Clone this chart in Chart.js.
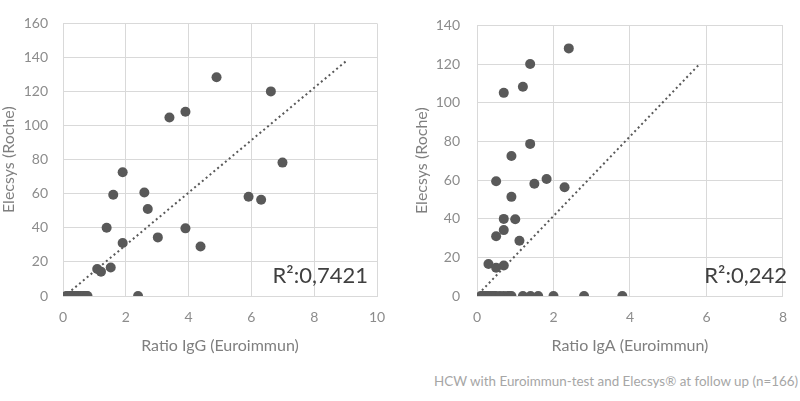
<!DOCTYPE html>
<html><head><meta charset="utf-8">
<script src="https://cdn.jsdelivr.net/npm/chart.js@4/dist/chart.umd.min.js"></script>
<style>
html,body{margin:0;padding:0;background:#fff;width:800px;height:401px;overflow:hidden;font-family:Lato,sans-serif}
#c1{position:absolute;left:0;top:0}
#c2{position:absolute;left:400px;top:0}
#note{position:absolute;left:434px;top:373px;font-size:13.4px;line-height:16px;color:#a6a6a6;white-space:nowrap;font-family:Lato,sans-serif}
</style></head><body>
<canvas id="c1" width="400" height="360"></canvas>
<canvas id="c2" width="400" height="360"></canvas>
<div id="note">HCW with Euroimmun-test and Elecsys® at follow up (n=166)</div>
<script>
// Left panel: Ratio IgG vs Elecsys
const iggRatio   = [4.89, 6.62, 3.90, 3.39, 6.99, 1.90, 2.59, 1.60, 5.91, 6.31, 2.70, 1.39, 3.90, 3.02, 1.90, 4.38, 1.09, 1.21, 1.52, 2.39,
                    0.10, 0.15, 0.20, 0.25, 0.30, 0.35, 0.40, 0.45, 0.50, 0.55, 0.60, 0.65, 0.70, 0.75, 0.78];
const iggElecsys = [128.4, 120.1, 108.1, 104.8, 78.3, 72.6, 60.7, 59.4, 58.3, 56.5, 51.1, 40.1, 39.7, 34.4, 31.1, 29.1, 15.8, 14.3, 16.7, 0,
                    0, 0, 0, 0, 0, 0, 0, 0, 0, 0, 0, 0, 0, 0, 0];
const iggTrendX  = [0.27, 9.0];
const iggTrendY  = [3.3, 137.6];
const iggR2      = "R²:0,7421";

// Right panel: Ratio IgA vs Elecsys
const igaRatio   = [2.40, 1.39, 1.20, 0.70, 1.39, 0.90, 1.82, 0.50, 1.50, 2.29, 0.90, 0.70, 1.00, 0.70, 0.50, 1.11, 0.30, 0.50, 0.70,
                    0.10, 0.15, 0.20, 0.25, 0.30, 0.35, 0.40, 0.45, 0.50, 0.60, 0.70, 0.80, 0.85, 0.90, 1.20, 1.40, 1.60, 2.00, 2.80, 3.80];
const igaElecsys = [128.1, 120.0, 108.3, 105.1, 78.7, 72.4, 60.5, 59.4, 58.1, 56.3, 51.3, 39.9, 39.7, 34.1, 30.9, 28.6, 16.6, 14.6, 15.8,
                    0, 0, 0, 0, 0, 0, 0, 0, 0, 0, 0, 0, 0, 0, 0, 0, 0, 0, 0, 0];
const igaTrendX  = [0.13, 5.82];
const igaTrendY  = [2.9, 120.0];
const igaR2      = "R²:0,242";

const yTitle = "Elecsys (Roche)";
const xTitleL = "Ratio IgG (Euroimmun)";
const xTitleR = "Ratio IgA (Euroimmun)";

const pts = (xs, ys) => xs.map((x, i) => ({x, y: ys[i]}));

const r2Plugin = {
  id: 'r2text',
  afterDatasetsDraw(chart, args, opts) {
    const ctx = chart.ctx;
    ctx.save();
    ctx.font = '22px Lato, sans-serif';
    ctx.fillStyle = '#404040';
    ctx.textAlign = 'right';
    ctx.textBaseline = 'alphabetic';
    ctx.fillText(opts.text, opts.x, opts.y);
    ctx.restore();
  }
};

function makeChart(id, xs, ys, tx, ty, xmax, ymax, xTitle, r2, cfg) {
  return new Chart(document.getElementById(id), {
    type: 'scatter',
    data: {
      datasets: [
        { data: pts(xs, ys), backgroundColor: '#595959', borderColor: '#595959', pointRadius: 5, pointBorderWidth: 0, order: 2 },
        { data: pts(tx, ty), showLine: true, borderColor: '#595959', borderWidth: 2, borderDash: [2, 3], pointRadius: 0, fill: false, order: 1 }
      ]
    },
    options: {
      responsive: false, animation: false, devicePixelRatio: 1,
      layout: { padding: { left: 0, right: cfg.padRight, top: 6, bottom: 0 } },
      plugins: { legend: { display: false }, tooltip: { enabled: false }, r2text: { text: r2, x: cfg.r2x, y: 283 } },
      scales: {
        x: {
          type: 'linear', min: 0, max: xmax,
          ticks: { stepSize: 2, padding: 13, color: '#8c8c8c', font: { family: 'Lato', size: 14 } },
          grid: { color: '#d9d9d9', drawTicks: false },
          border: { color: '#d9d9d9' },
          title: { display: true, text: xTitle, color: '#7f7f7f', font: { family: 'Lato', size: 16 }, padding: { top: 0, bottom: 5 } },
          afterFit: s => { s.height = 64; }
        },
        y: {
          type: 'linear', min: 0, max: ymax,
          ticks: { stepSize: 20, padding: cfg.yTickPad, color: '#8c8c8c', font: { family: 'Lato', size: 14 } },
          grid: { color: '#d9d9d9', drawTicks: false },
          border: { color: '#d9d9d9' },
          title: { display: true, text: yTitle, color: '#7f7f7f', font: { family: 'Lato', size: 16, lineHeight: 1 }, padding: { top: cfg.yTitlePad, bottom: 0 } },
          afterFit: s => { s.width = cfg.yWidth; }
        }
      }
    },
    plugins: [r2Plugin]
  });
}

makeChart('c1', iggRatio, iggElecsys, iggTrendX, iggTrendY, 10, 160, xTitleL, iggR2,
  { padRight: 23, yWidth: 63, yTitlePad: 1, yTickPad: 15, r2x: 368 });
makeChart('c2', igaRatio, igaElecsys, igaTrendX, igaTrendY, 8, 140, xTitleR, igaR2,
  { padRight: 5, yWidth: 77, yTitlePad: 14, yTickPad: 17, r2x: 387 });
</script>
</body></html>
